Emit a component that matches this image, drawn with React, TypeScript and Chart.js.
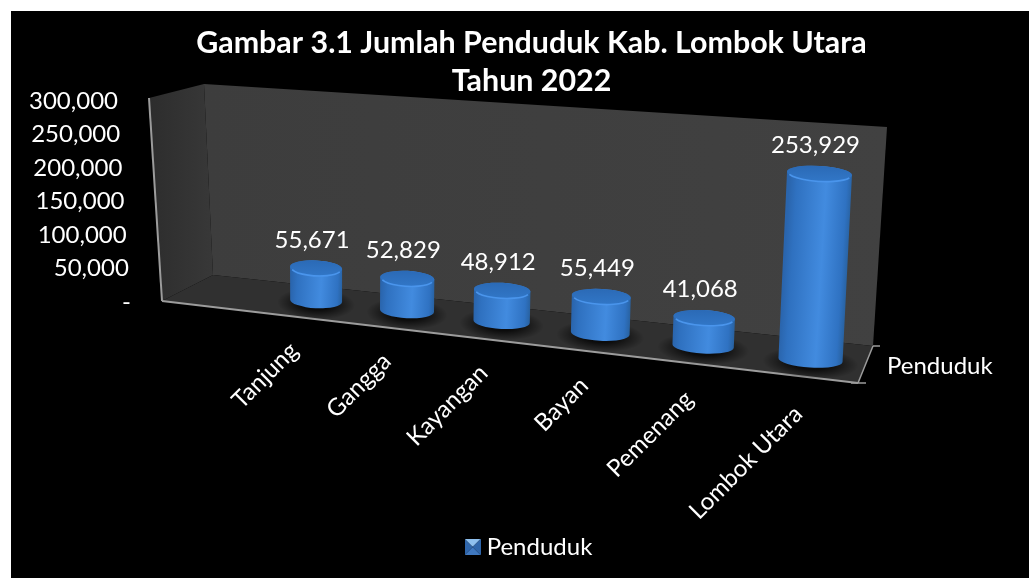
import React, { useEffect, useRef } from "react";
import { Chart, registerables } from "chart.js";

Chart.register(...registerables);

const titleLines = ["Gambar 3.1 Jumlah Penduduk Kab. Lombok Utara", "Tahun 2022"];
const seriesName = "Penduduk";
const categories = ["Tanjung", "Gangga", "Kayangan", "Bayan", "Pemenang", "Lombok Utara"];
const populationValues = [55671, 52829, 48912, 55449, 41068, 253929];
const axisMax = 300000;
const axisStep = 50000;

const FONT = "Lato, Carlito, Calibri, sans-serif";
const LABEL_SIZE = 24;

type P = [number, number];

// corners of the 3D box as seen on the page
const WALL = {
  backTL: [204, 84] as P,
  backTR: [887, 127] as P,
  backBR: [873, 346] as P,
  backBL: [213, 275] as P,
  frontTL: [149, 98] as P,
  frontBL: [162, 301] as P,
  frontBR: [858, 383] as P,
};
// plane in which the cylinders stand: (u,v) unit square -> page
const PLANE: P[] = [
  [272, 296],
  [866, 367.5],
  [878, 141],
  [271, 120],
];
// a flatter version of the same plane, used for horizontal spacing
const PLANE_X: P[] = [
  [272, 296],
  [866, 367.5],
  [878, 147.5],
  [271, 101],
];

function makeProjector(q: P[]) {
  const [[x0, y0], [x1, y1], [x2, y2], [x3, y3]] = q;
  const dx1 = x1 - x2, dx2 = x3 - x2, sx = x0 - x1 + x2 - x3;
  const dy1 = y1 - y2, dy2 = y3 - y2, sy = y0 - y1 + y2 - y3;
  const den = dx1 * dy2 - dx2 * dy1;
  const g = (sx * dy2 - dx2 * sy) / den;
  const h = (dx1 * sy - sx * dy1) / den;
  const a = x1 - x0 + g * x1, b = x3 - x0 + h * x3;
  const d = y1 - y0 + g * y1, e = y3 - y0 + h * y3;
  return (u: number, v: number): P => {
    const w = g * u + h * v + 1;
    return [(a * u + b * v + x0) / w, (d * u + e * v + y0) / w];
  };
}
const projectY = makeProjector(PLANE);
const projectX = makeProjector(PLANE_X);
const project = (u: number, v: number): P => [projectX(u, v)[0], projectY(u, v)[1]];

function poly(ctx: CanvasRenderingContext2D, pts: P[], fill: string | CanvasGradient) {
  ctx.beginPath();
  pts.forEach((p, i) => (i ? ctx.lineTo(p[0], p[1]) : ctx.moveTo(p[0], p[1])));
  ctx.closePath();
  ctx.fillStyle = fill;
  ctx.fill();
}

function line(ctx: CanvasRenderingContext2D, a: P, b: P, color: string, w: number) {
  ctx.beginPath();
  ctx.moveTo(a[0], a[1]);
  ctx.lineTo(b[0], b[1]);
  ctx.strokeStyle = color;
  ctx.lineWidth = w;
  ctx.stroke();
}

function legendMarker() {
  const c = document.createElement("canvas");
  c.width = 16;
  c.height = 16;
  const x = c.getContext("2d")!;
  const s = 16, m = 8;
  poly(x, [[0, 0], [s, 0], [m, m]], "#8fc0ee");
  poly(x, [[0, 0], [m, m], [0, s]], "#2f66ab");
  poly(x, [[s, 0], [m, m], [s, s]], "#2f66ab");
  poly(x, [[0, s], [m, m], [s, s]], "#3f78c0");
  return c;
}

const scene = {
  id: "scene",
  beforeDraw(chart: any) {
    const ctx: CanvasRenderingContext2D = chart.ctx;
    ctx.save();
    ctx.fillStyle = "#000";
    ctx.fillRect(11, 11, 1018, 567);

    // walls and floor
    const back = ctx.createLinearGradient(204, 0, 887, 0);
    back.addColorStop(0, "#3d3d3d");
    back.addColorStop(1, "#414141");
    poly(ctx, [WALL.backTL, WALL.backTR, WALL.backBR, WALL.backBL], back);
    const left = ctx.createLinearGradient(149, 0, 213, 0);
    left.addColorStop(0, "#2d2d2d");
    left.addColorStop(1, "#383838");
    poly(ctx, [WALL.frontTL, WALL.backTL, WALL.backBL, WALL.frontBL], left);
    poly(ctx, [WALL.frontBL, WALL.backBL, WALL.backBR, WALL.frontBR], "#303030");

    // axis lines
    const axis = "#9c9c9c";
    line(ctx, WALL.frontTL, WALL.frontBL, axis, 2);
    line(ctx, WALL.frontBL, WALL.frontBR, axis, 2);
    line(ctx, WALL.frontBR, WALL.backBR, axis, 1.5);
    line(ctx, [851, 383], [866, 383], axis, 1.5);
    line(ctx, WALL.backBR, [880, 346], axis, 1.5);

    // value axis labels, slanted along the front edge
    const yScale = chart.scales.y;
    const xScale = chart.scales.x;
    ctx.font = `${LABEL_SIZE}px ${FONT}`;
    ctx.fillStyle = "#fff";
    ctx.textAlign = "right";
    ctx.textBaseline = "middle";
    yScale.ticks.forEach((t: any) => {
      const v = (yScale.bottom - yScale.getPixelForValue(t.value)) / (yScale.bottom - yScale.top);
      ctx.fillText(t.label, 131 - 13 * v, 302 - 201 * v);
    });

    // category labels
    xScale.ticks.forEach((t: any, i: number) => {
      const u = (xScale.getPixelForTick(i) - xScale.left) / xScale.width;
      const b = project(u, 0);
      ctx.save();
      ctx.translate(b[0] - 23 + 12 * u, b[1] + 45.5 + 5 * u);
      ctx.rotate(-Math.PI / 4);
      ctx.textAlign = "right";
      ctx.textBaseline = "middle";
      ctx.fillText(String(t.label), 0, 0);
      ctx.restore();
    });

    // series axis label
    ctx.textAlign = "left";
    ctx.fillText(seriesName, 887, 366);
    ctx.restore();
  },
  beforeDatasetDraw(chart: any, args: any) {
    const ctx: CanvasRenderingContext2D = chart.ctx;
    const meta = args.meta;
    const xs = chart.scales.x;
    const ys = chart.scales.y;
    const U = (x: number) => (x - xs.left) / xs.width;
    const V = (y: number) => (ys.bottom - y) / (ys.bottom - ys.top);
    const ry = 7.5;
    ctx.save();
    meta.data.forEach((bar: any, i: number) => {
      const p = bar.getProps(["x", "y", "base", "width"], true);
      const uc = U(p.x);
      const du = U(p.x + p.width / 2) - uc;
      const B = project(uc, V(p.base));
      const T = project(uc, V(p.y));
      const b0 = project(uc - du, V(p.base));
      const b1 = project(uc + du, V(p.base));
      const t0 = project(uc - du, V(p.y));
      const t1 = project(uc + du, V(p.y));
      const rb = Math.hypot(b1[0] - b0[0], b1[1] - b0[1]) / 2;
      const rt = Math.hypot(t1[0] - t0[0], t1[1] - t0[1]) / 2;
      const rot = 0.45 * Math.atan2(b1[1] - b0[1], b1[0] - b0[0]);
      const bl: P = [B[0] - rb * Math.cos(rot), B[1] - rb * Math.sin(rot)];
      const br: P = [B[0] + rb * Math.cos(rot), B[1] + rb * Math.sin(rot)];

      // soft shadow on the floor
      ctx.save();
      ctx.translate(B[0], B[1] + 3);
      ctx.rotate(rot);
      ctx.scale(rb * 1.5, ry * 2.1);
      const sh = ctx.createRadialGradient(0, 0, 0.4, 0, 0, 1);
      sh.addColorStop(0, "rgba(0,0,0,0.75)");
      sh.addColorStop(1, "rgba(0,0,0,0)");
      ctx.fillStyle = sh;
      ctx.beginPath();
      ctx.arc(0, 0, 1, 0, Math.PI * 2);
      ctx.fill();
      ctx.restore();

      // body
      const g = ctx.createLinearGradient(bl[0], bl[1], br[0], br[1]);
      g.addColorStop(0, "#2a65ad");
      g.addColorStop(0.12, "#2f71c0");
      g.addColorStop(0.58, "#428bdf");
      g.addColorStop(0.9, "#2f72c2");
      g.addColorStop(1, "#28619f");
      ctx.beginPath();
      ctx.ellipse(T[0], T[1], rt, ry, rot, Math.PI, Math.PI * 2);
      ctx.lineTo(br[0], br[1]);
      ctx.ellipse(B[0], B[1], rb, ry, rot, 0, Math.PI);
      ctx.closePath();
      ctx.fillStyle = g;
      ctx.fill();

      // cap
      const cg = ctx.createLinearGradient(T[0], T[1] - ry, T[0], T[1] + ry);
      cg.addColorStop(0, "#2b6ab6");
      cg.addColorStop(1, "#3176c6");
      ctx.beginPath();
      ctx.ellipse(T[0], T[1], rt, ry, rot, 0, Math.PI * 2);
      ctx.fillStyle = cg;
      ctx.fill();
      ctx.beginPath();
      ctx.ellipse(T[0], T[1] + 0.5, rt - 1, ry, rot, Math.PI * 0.1, Math.PI * 0.9);
      ctx.strokeStyle = "#4a95ec";
      ctx.lineWidth = 1.6;
      ctx.stroke();

      // value label
      ctx.font = `${LABEL_SIZE}px ${FONT}`;
      ctx.fillStyle = "#fff";
      ctx.textAlign = "center";
      ctx.textBaseline = "middle";
      ctx.fillText(populationValues[i].toLocaleString("en-US"), T[0] - 4, T[1] - 28);
    });
    ctx.restore();
    return false;
  },
};

export default function App() {
  const ref = useRef<HTMLCanvasElement>(null);
  useEffect(() => {
    const chart = new Chart(ref.current!, {
      type: "bar",
      data: {
        labels: categories,
        datasets: [
          {
            label: seriesName,
            data: populationValues,
            backgroundColor: "#3b82d6",
            barPercentage: 0.58,
            categoryPercentage: 1,
          },
        ],
      },
      options: {
        animation: false,
        responsive: false,
        layout: { padding: { left: 34, right: 0, top: 0, bottom: 9 } },
        scales: {
          x: { display: false },
          y: {
            display: false,
            min: 0,
            max: axisMax,
            ticks: {
              stepSize: axisStep,
              callback: (v: any) => (v === 0 ? "-" : Number(v).toLocaleString("en-US")),
            },
          },
        },
        plugins: {
          tooltip: { enabled: false },
          title: {
            display: true,
            text: titleLines,
            color: "#fff",
            font: { family: FONT, size: 30.4, weight: "bold", lineHeight: 38 / 30.4 },
            padding: { top: 24, bottom: 0 },
          },
          legend: {
            position: "bottom",
            labels: {
              color: "#fff",
              font: { family: FONT, size: LABEL_SIZE },
              usePointStyle: true,
              pointStyle: legendMarker(),
              pointStyleWidth: 4,
              boxHeight: 16,
            },
          },
        },
      },
      plugins: [scene],
    } as any);
    return () => chart.destroy();
  }, []);
  return (
    <div style={{ position: "fixed", left: 0, top: 0, width: 1029, height: 578, background: "#fff" }}>
      <canvas ref={ref} width={1029} height={578} style={{ display: "block", width: 1029, height: 578 }} />
    </div>
  );
}
